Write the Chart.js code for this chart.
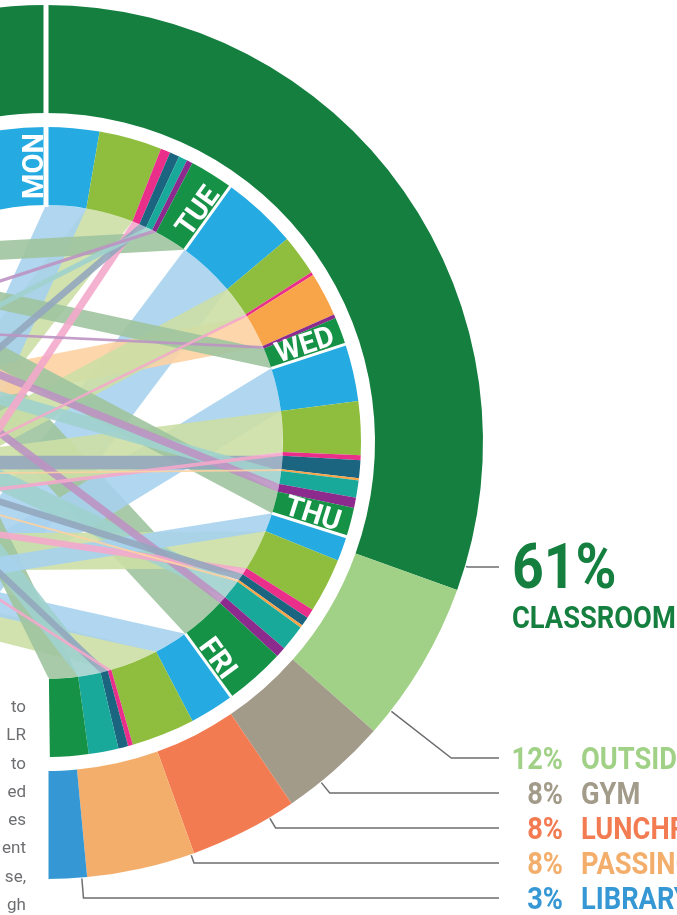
<!DOCTYPE html>
<html>
<head>
<meta charset="utf-8">
<script src="https://cdn.jsdelivr.net/npm/chart.js@4.4.1/dist/chart.umd.min.js"></script>
<style>
  html, body { margin: 0; padding: 0; background: #fff; }
  body { width: 677px; height: 915px; overflow: hidden; position: relative; }
  #ring { position: absolute; left: -400px; top: 0; }
  #note { position: absolute; right: 651px; top: 692px; font: 17px Roboto, sans-serif;
          color: #6d6e71; line-height: 28.3px; text-align: right; white-space: nowrap; }
</style>
</head>
<body>
<canvas id="ring" width="1077" height="915"></canvas>
<div id="note">to<br>LR<br>to<br>ed<br>es<br>ent<br>se,<br>gh</div>
<script>
// outer ring: where the week was spent (right half = 100%)
var place_labels = ['CLASSROOM', 'OUTSIDE', 'GYM', 'LUNCHROOM', 'PASSING', 'LIBRARY'];
var place_shares = [61, 12, 8, 8, 8, 3];
var place_colors = ['#147f3f', '#a1d187', '#a39b8a', '#f37b52', '#f4ae6c', '#3597d3'];
var other_half_share = 10; // the bit of the left half that shows at the top

// inner ring: day by day, size in degrees of arc, target = where the ribbon lands (deg)
var day_names = ['MON', 'TUE', 'WED', 'THU', 'FRI'];
var day_label_at = [0, 7, 13, 21, 29];
var seg_kinds = ['blue',
  'blue', 'yg', 'pink', 'dteal', 'teal', 'purple', 'green',
  'blue', 'yg', 'pink', 'orange', 'purple', 'green',
  'blue', 'yg', 'pink', 'dteal', 'orange', 'teal', 'purple', 'green',
  'blue', 'yg', 'pink', 'dteal', 'orange', 'teal', 'purple', 'green',
  'blue', 'yg', 'pink', 'dteal', 'teal', 'green'];
var seg_sizes = [16,
  9.8, 11.6, 1.8, 1.8, 1.6, 1.1, 8.1,
  14.1, 7.5, 0.6, 8.1, 0.7, 5.1,
  10.6, 9.9, 0.9, 3.3, 0.4, 3.2, 1.9, 5.4,
  4.6, 10.1, 1.7, 1.7, 0.5, 4.8, 1.9, 11.2,
  8.3, 11.7, 0.9, 1.8, 5.5, 7.1];
var seg_targets = [null,
  224, 240, 225, 255, 280, 297, 322,
  211, 250, 250, 276, 299, 315,
  220, 258, 253, 265, 262, 293, 303, 311,
  232, 242, 254, 270, 265, 282, 302, 316,
  237, 230, 261, 281, 295, 312];

var solid = { blue: '#25aae1', yg: '#8fbe3e', pink: '#ea2f8b', dteal: '#1c6581',
  teal: '#18a99b', purple: '#8c2a8e', green: '#159245', orange: '#f8a54a' };
var pastel = { blue: '#a7d2ee', yg: '#ccdfa5', pink: '#f4a8cb', dteal: '#93a7be',
  teal: '#a0d2ce', purple: '#bd93c3', green: '#9fc49f', orange: '#fdd1a2' };

var callout_at = [0.97, 0.84, 0.67, 0.24, 0.03, 0.13];

function sum(a) { return a.reduce(function (s, v) { return s + v; }, 0); }

// ribbons go under the rings
var ribbons = {
  id: 'ribbons',
  beforeDatasetsDraw: function (chart) {
    var arcs = chart.getDatasetMeta(2).data;
    var ctx = chart.ctx;
    var order = arcs.map(function (a, i) { return i; })
      .filter(function (i) { return seg_targets[i] != null; })
      .sort(function (a, b) { return seg_sizes[b] - seg_sizes[a]; });
    ctx.save();
    ctx.globalAlpha = 0.9;
    order.forEach(function (i) {
      var a = arcs[i];
      var r = a.innerRadius;
      var span = a.endAngle - a.startAngle;
      var t0 = (seg_targets[i] - 90) * Math.PI / 180 - span / 2;
      ctx.beginPath();
      ctx.arc(a.x, a.y, r, a.startAngle, a.endAngle);
      ctx.lineTo(a.x + r * Math.cos(t0), a.y + r * Math.sin(t0));
      ctx.arc(a.x, a.y, r, t0, t0 + span);
      ctx.closePath();
      ctx.fillStyle = pastel[seg_kinds[i]];
      ctx.fill();
    });
    ctx.restore();
  }
};

function condensed(ctx, text, x, y, size, color, align) {
  ctx.save();
  ctx.translate(x, y);
  ctx.scale(0.88, 1);
  ctx.font = 'bold ' + size + 'px Roboto';
  ctx.fillStyle = color;
  ctx.textAlign = align;
  ctx.textBaseline = 'alphabetic';
  ctx.fillText(text, 0, 0);
  ctx.restore();
}

var marks = {
  id: 'marks',
  afterDatasetsDraw: function (chart) {
    var ctx = chart.ctx;
    var outer = chart.getDatasetMeta(0).data;
    var inner = chart.getDatasetMeta(2).data;
    var cx = inner[0].x, cy = inner[0].y;
    var R = outer[0].outerRadius, r0 = inner[0].innerRadius, r1 = inner[0].outerRadius;
    function pt(ang, rad) { return { x: cx + rad * Math.cos(ang), y: cy + rad * Math.sin(ang) }; }
    function rule(ang, ra, rb, w) {
      var p = pt(ang, ra), q = pt(ang, rb);
      ctx.lineWidth = w;
      ctx.beginPath(); ctx.moveTo(p.x, p.y); ctx.lineTo(q.x, q.y); ctx.stroke();
    }
    ctx.save();
    ctx.strokeStyle = '#fff';
    rule(outer[1].startAngle, r0 - 2, R + 3, 5);
    rule(outer[outer.length - 1].endAngle, r0 - 2, R + 3, 5);

    // day names sit at the closing edge of their tab
    day_label_at.forEach(function (k, d) {
      var a = inner[k];
      if (d > 0) rule(a.endAngle, r0, r1 + 1, 3);
      var p = pt(a.endAngle, (r0 + r1) / 2);
      ctx.save();
      ctx.translate(p.x, p.y);
      ctx.rotate(a.endAngle);
      ctx.font = 'bold 29px Roboto';
      ctx.fillStyle = '#fff';
      ctx.textAlign = 'center';
      ctx.textBaseline = 'alphabetic';
      ctx.fillText(day_names[d], 0, -3);
      ctx.restore();
    });

    // callouts
    var lineEnd = cx + 453;
    ctx.strokeStyle = '#6d6e71';
    ctx.lineWidth = 1.5;
    place_labels.forEach(function (name, i) {
      var a = outer[i + 1];
      var ang = a.startAngle + callout_at[i] * (a.endAngle - a.startAngle);
      var p = pt(ang, R + 1);
      var rowY = i === 0 ? cy + 125 : cy + 316 + (i - 1) * 35;
      var t = (rowY - p.y) / Math.sin(ang);
      var ex = p.x + t * Math.cos(ang);
      ctx.beginPath();
      ctx.moveTo(p.x, p.y);
      ctx.lineTo(ex, rowY);
      ctx.lineTo(lineEnd, rowY);
      ctx.stroke();
      if (i === 0) {
        condensed(ctx, place_shares[i] + '%', cx + 466, cy + 146, 63, place_colors[i], 'left');
        condensed(ctx, name, cx + 466, cy + 186, 31, place_colors[i], 'left');
      } else {
        condensed(ctx, place_shares[i] + '%', cx + 517, rowY + 11, 31, place_colors[i], 'right');
        condensed(ctx, name, cx + 535, rowY + 11, 31, place_colors[i], 'left');
      }
    });
    ctx.restore();
  }
};

new Chart(document.getElementById('ring'), {
  type: 'doughnut',
  data: {
    labels: seg_kinds,
    datasets: [{
      data: [other_half_share].concat(place_shares),
      backgroundColor: [place_colors[0]].concat(place_colors),
      rotation: -other_half_share * 1.8,
      circumference: (other_half_share + sum(place_shares)) * 1.8,
      weight: 108,
      borderWidth: 0
    }, {
      data: [1],
      backgroundColor: ['rgba(0,0,0,0)'],
      rotation: 0,
      circumference: 360,
      weight: 14,
      borderWidth: 0
    }, {
      data: seg_sizes,
      backgroundColor: seg_kinds.map(function (k) { return solid[k]; }),
      rotation: -seg_sizes[0],
      circumference: sum(seg_sizes),
      weight: 78,
      borderWidth: 0
    }]
  },
  options: {
    responsive: false,
    animation: false,
    events: [],
    cutout: 237,
    layout: { padding: { left: 9, top: 5, right: 194, bottom: 36 } },
    plugins: { legend: { display: false }, tooltip: { enabled: false } }
  },
  plugins: [ribbons, marks]
});
</script>
</body>
</html>
